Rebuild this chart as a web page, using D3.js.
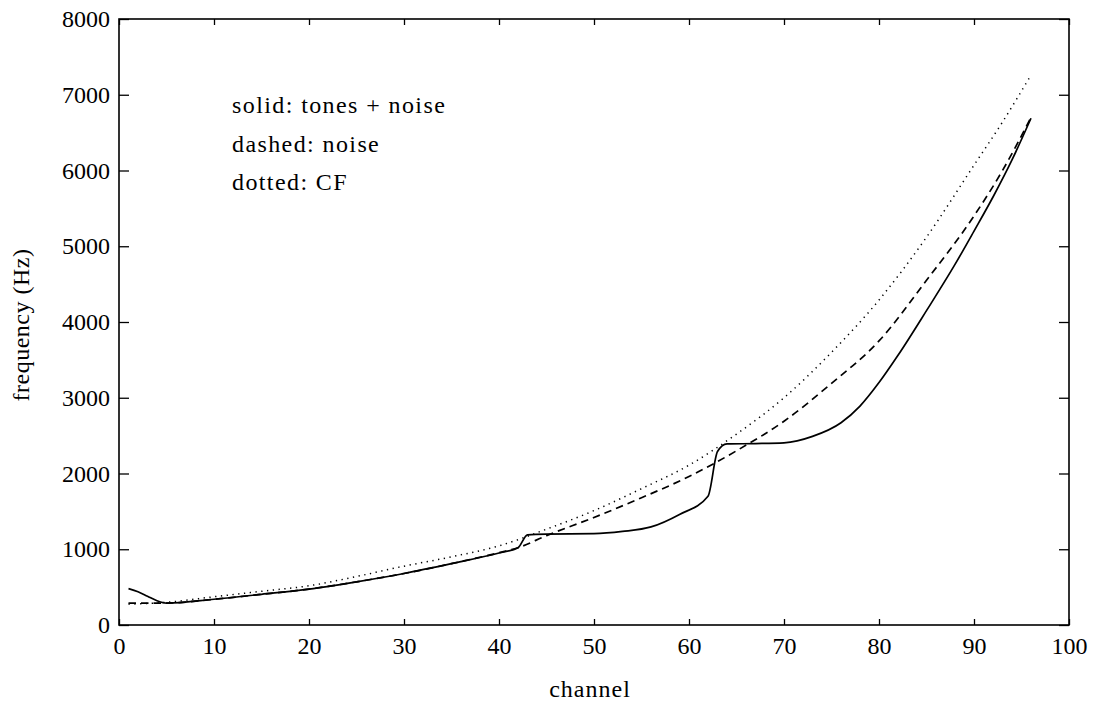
<!DOCTYPE html>
<html>
<head>
<meta charset="utf-8">
<script src="https://cdn.jsdelivr.net/npm/d3@7"></script>
<style>
  body { margin: 0; background: #fff; }
  svg { display: block; }
  text { font-family: "Liberation Serif", "DejaVu Serif", serif; fill: #000; }
</style>
</head>
<body>
<svg id="chart" width="1094" height="704"></svg>
<script>
// solid: tones + noise
var toneChannels = [1, 2, 3, 4, 5, 10, 15, 20, 25, 30, 35, 40, 42, 43, 45, 50, 53, 56, 59, 62, 63, 64, 67, 70, 73, 76, 78, 80, 82, 85, 88, 90, 92, 94, 96];
var toneFreqs    = [480, 440, 380, 320, 288, 340, 405, 474, 570, 680, 810, 950, 1020, 1190, 1200, 1205, 1235, 1295, 1460, 1700, 2290, 2390, 2395, 2405, 2490, 2670, 2890, 3200, 3560, 4150, 4760, 5200, 5650, 6140, 6690];

// dashed: noise
var noiseChannels = [1, 3, 5, 10, 15, 20, 25, 30, 35, 40, 42, 45, 50, 55, 60, 65, 70, 75, 80, 85, 90, 93, 96];
var noiseFreqs    = [290, 290, 290, 340, 405, 474, 570, 680, 810, 955, 1020, 1180, 1420, 1680, 1960, 2300, 2690, 3190, 3750, 4550, 5400, 6000, 6700];

// dotted: CF
var cfChannels = [1, 5, 10, 15, 20, 25, 30, 35, 40, 45, 50, 55, 60, 65, 70, 75, 80, 85, 90, 93, 96];
var cfFreqs    = [275, 300, 373, 445, 518, 640, 777, 900, 1045, 1265, 1510, 1800, 2110, 2520, 3000, 3600, 4290, 5120, 6070, 6640, 7260];

var xTicks = [0, 10, 20, 30, 40, 50, 60, 70, 80, 90, 100];
var yTicks = [0, 1000, 2000, 3000, 4000, 5000, 6000, 7000, 8000];
var legendLines = ["solid: tones + noise", "dashed: noise", "dotted: CF"];

// plot box (don't call it "top", that's window.top)
var boxL = 119, boxR = 1069, boxT = 19, boxB = 625;

var svg = d3.select("#chart");
var x = d3.scaleLinear().domain([0, 100]).range([boxL, boxR]);
var y = d3.scaleLinear().domain([0, 8000]).range([boxB, boxT]);

// axes, ticks pointing inward like matlab
var xAxis = svg.append("g")
    .attr("transform", "translate(0," + boxB + ")")
    .call(d3.axisBottom(x).tickValues(xTicks).tickSize(-6).tickFormat(d3.format("d")));
xAxis.selectAll("text").attr("y", 29).attr("dy", 0).style("font-size", "24px");

svg.append("g")
    .attr("transform", "translate(0," + boxT + ")")
    .call(d3.axisTop(x).tickValues(xTicks).tickSize(-6).tickFormat(""));

var yAxis = svg.append("g")
    .attr("transform", "translate(" + boxL + ",0)")
    .call(d3.axisLeft(y).tickValues(yTicks).tickSize(-10).tickFormat(d3.format("d")));
yAxis.selectAll("text").attr("x", -9).attr("dy", "0.32em").style("font-size", "24px");

svg.append("g")
    .attr("transform", "translate(" + boxR + ",0)")
    .call(d3.axisRight(y).tickValues(yTicks).tickSize(-10).tickFormat(""));

svg.selectAll(".domain").remove();
svg.selectAll(".tick line").attr("stroke", "#000").attr("stroke-width", 1.3);
svg.selectAll(".tick text").attr("fill", "#000").style("font-family", "'Liberation Serif', serif");

// frame
svg.append("rect")
    .attr("x", boxL).attr("y", boxT)
    .attr("width", boxR - boxL).attr("height", boxB - boxT)
    .attr("fill", "none").attr("stroke", "#000").attr("stroke-width", 1.6);

function drawSeries(chs, freqs, dash, width) {
  var pts = chs.map(function(c, i) { return [c, freqs[i]]; });
  var line = d3.line()
      .x(function(d) { return x(d[0]); })
      .y(function(d) { return y(d[1]); })
      .curve(d3.curveMonotoneX);
  svg.append("path")
      .datum(pts)
      .attr("d", line)
      .attr("fill", "none")
      .attr("stroke", "#000")
      .attr("stroke-width", width)
      .attr("stroke-dasharray", dash);
}

drawSeries(cfChannels, cfFreqs, "1.3,4.5", 1.5);
drawSeries(noiseChannels, noiseFreqs, "7.5,5", 1.7);
drawSeries(toneChannels, toneFreqs, null, 1.7);

// legend text
svg.selectAll(".legend")
    .data(legendLines)
    .enter()
    .append("text")
    .attr("class", "legend")
    .attr("x", 232)
    .attr("y", function(d, i) { return 113 + i * 38.5; })
    .style("font-size", "24px")
    .style("letter-spacing", "1.4px")
    .text(function(d) { return d; });

// axis labels
svg.append("text")
    .attr("x", 590)
    .attr("y", 697)
    .attr("text-anchor", "middle")
    .style("font-size", "24px")
    .style("letter-spacing", "1px")
    .text("channel");

svg.append("text")
    .attr("transform", "translate(29,325) rotate(-90)")
    .attr("text-anchor", "middle")
    .style("font-size", "24px")
    .style("letter-spacing", "0.5px")
    .text("frequency (Hz)");
</script>
</body>
</html>
